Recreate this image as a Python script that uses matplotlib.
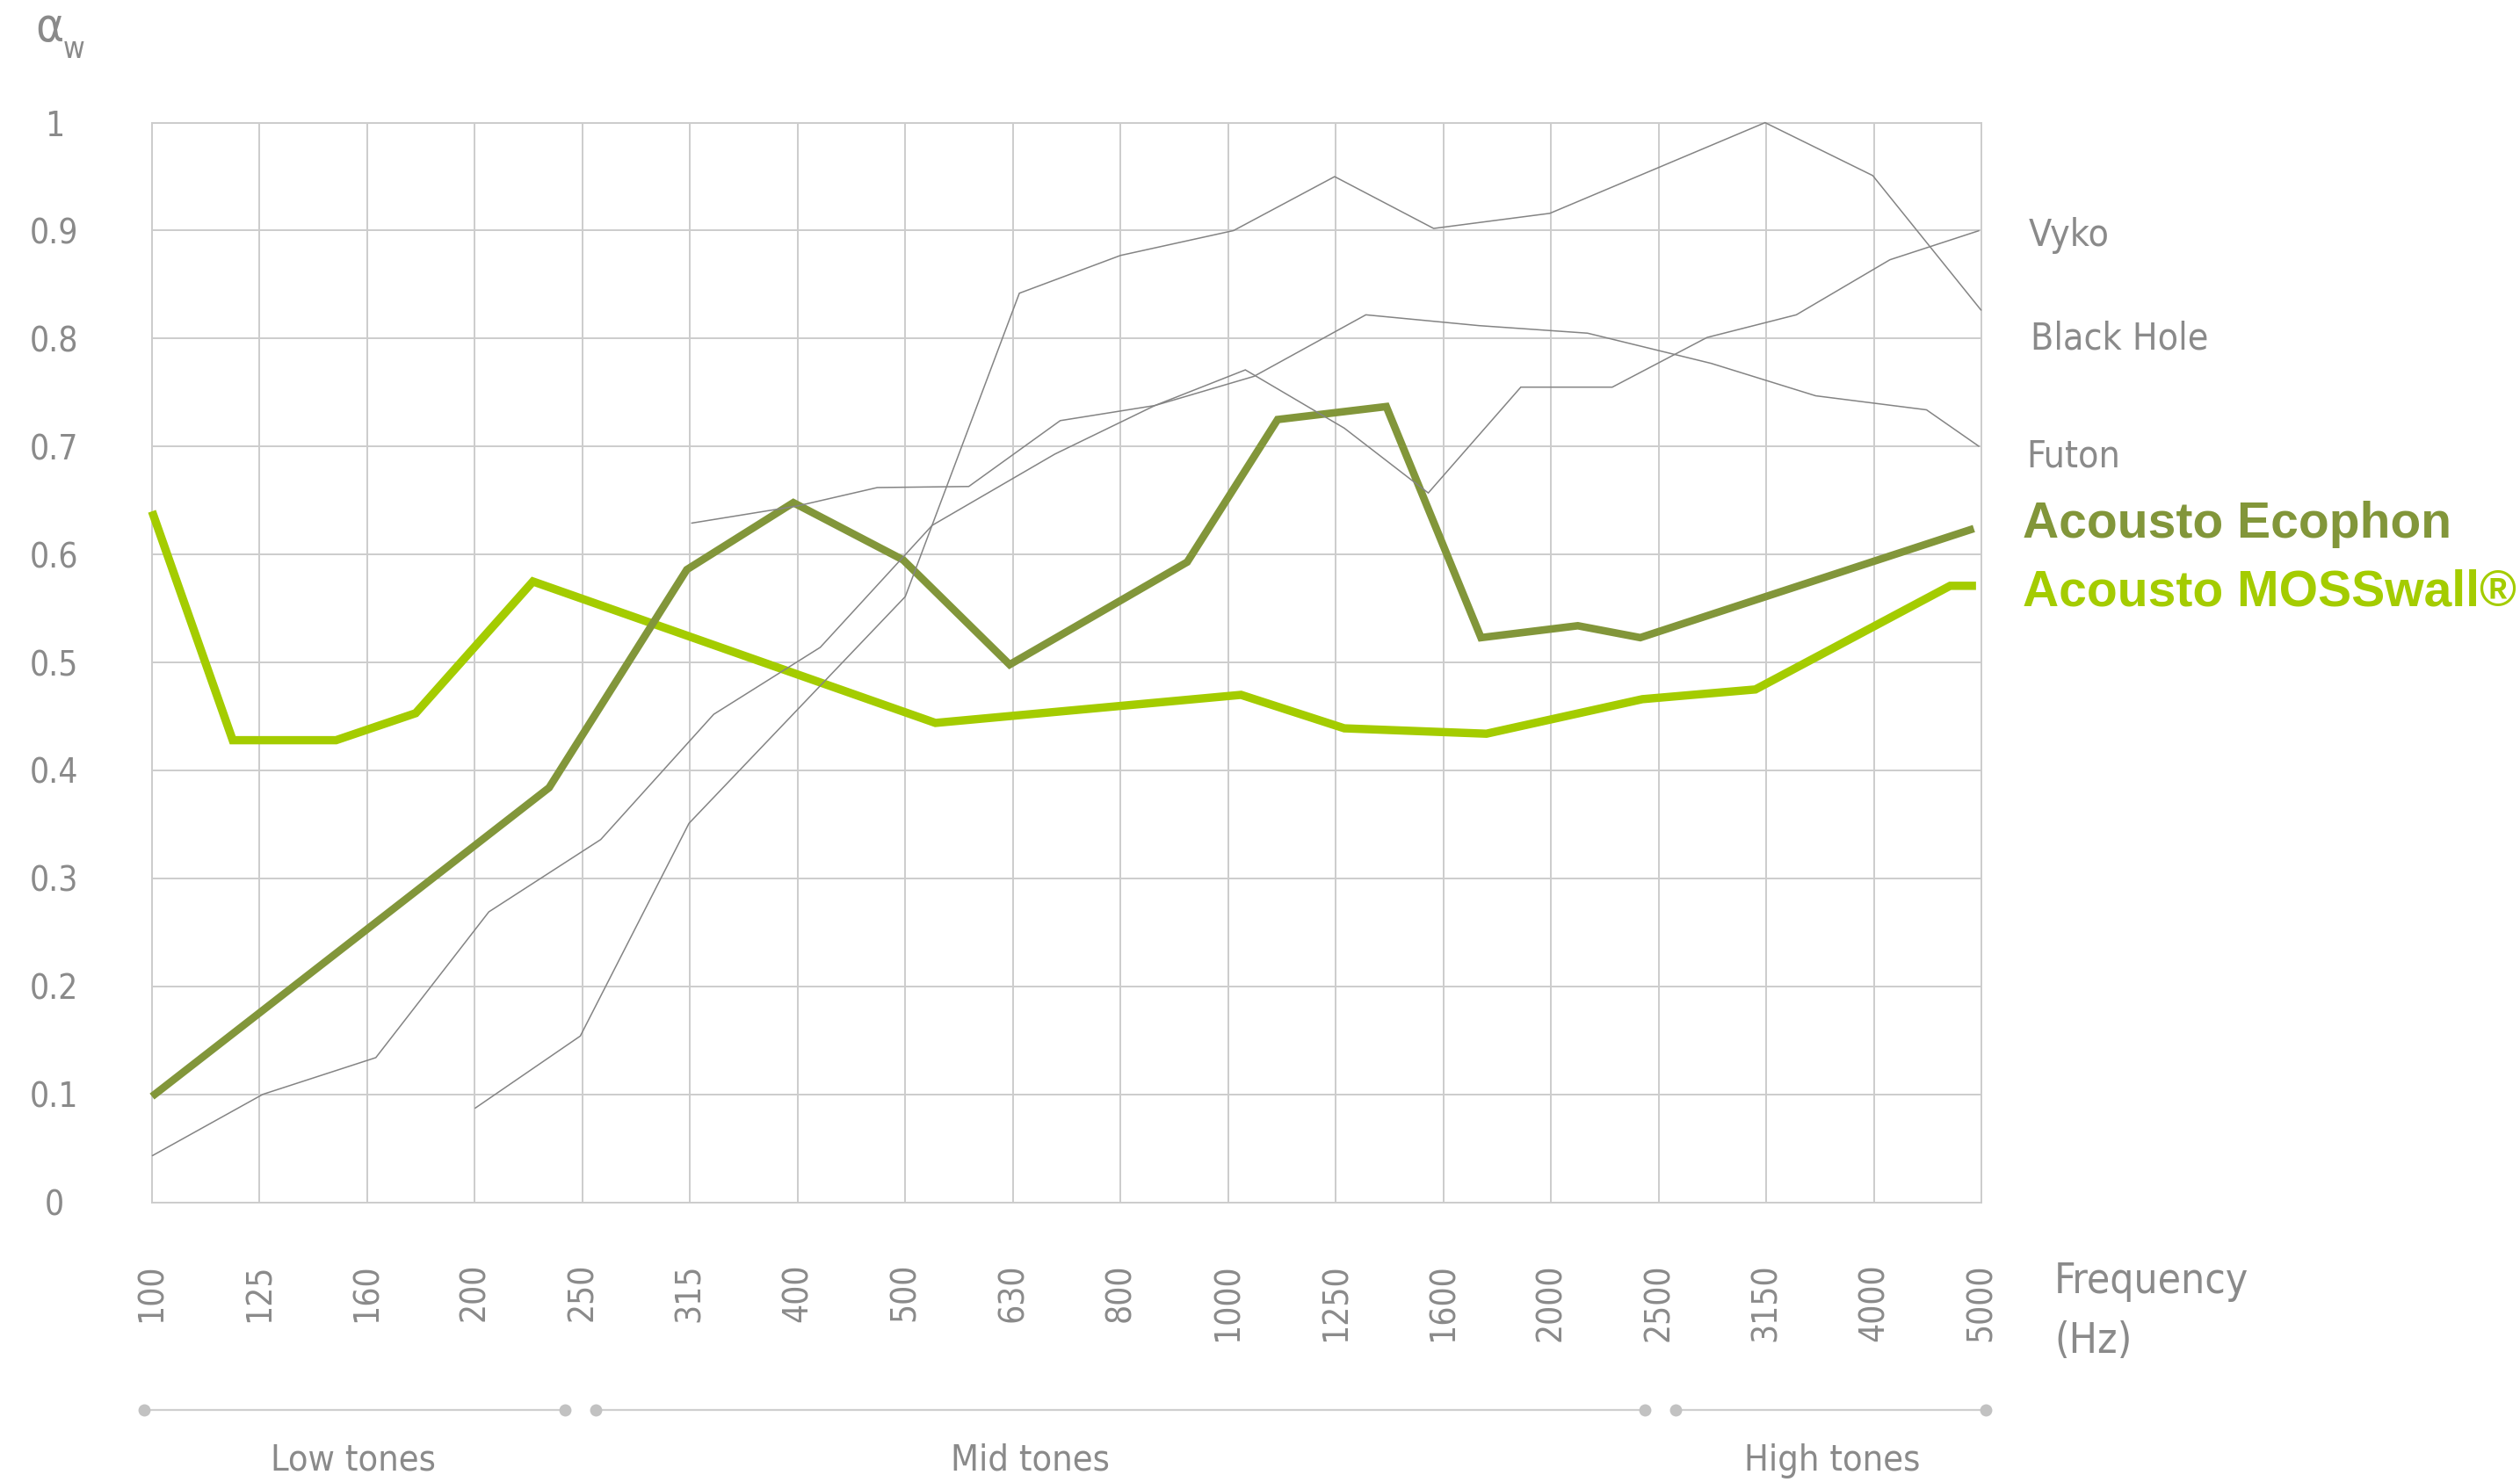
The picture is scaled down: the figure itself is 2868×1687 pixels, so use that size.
import matplotlib
matplotlib.use('Agg')
import matplotlib.pyplot as plt
from matplotlib import font_manager
from matplotlib.transforms import blended_transform_factory

# ── Data (x = position in 1/3-octave band steps, 0 = 100 Hz) ────────────────
freq_labels = ['100', '125', '160', '200', '250', '315', '400', '500', '630',
               '800', '1000', '1250', '1600', '2000', '2500', '3150', '4000', '5000']

vyko_x = [0, 1.03, 2.08, 3.13, 4.17, 5.22, 6.21, 7.25, 8.39, 9.32, 10.16,
          11.08, 11.86, 12.72, 13.57, 14.45, 15.28, 16.15, 16.98]
vyko_y = [0.043, 0.100, 0.134, 0.269, 0.336, 0.452, 0.514, 0.627, 0.693, 0.738, 0.771,
          0.717, 0.657, 0.755, 0.755, 0.801, 0.822, 0.873, 0.900]

blackhole_x = [3.0, 3.98, 4.99, 7.0, 8.06, 9.0, 10.05, 10.99, 11.91, 12.99, 14.99, 15.99, 17.0]
blackhole_y = [0.087, 0.154, 0.351, 0.561, 0.842, 0.877, 0.900, 0.950, 0.902, 0.916, 1.0, 0.951, 0.826]

futon_x = [5.01, 6.0, 6.74, 7.59, 8.44, 9.32, 10.24, 11.28, 12.33, 13.34, 14.49, 15.46, 16.49, 16.98]
futon_y = [0.629, 0.645, 0.662, 0.663, 0.724, 0.738, 0.765, 0.822, 0.812, 0.805, 0.777, 0.747, 0.734, 0.700]

ecophon_x = [0, 3.69, 4.97, 5.96, 6.98, 7.97, 9.62, 10.46, 11.47, 12.35, 13.25, 13.83, 16.93]
ecophon_y = [0.098, 0.384, 0.586, 0.648, 0.595, 0.498, 0.593, 0.725, 0.737, 0.523, 0.534, 0.523, 0.624]

moss_x = [0, 0.75, 1.71, 2.45, 3.54, 7.28, 10.12, 11.08, 12.40, 13.85, 14.90, 16.71, 16.95]
moss_y = [0.640, 0.428, 0.428, 0.453, 0.575, 0.444, 0.470, 0.439, 0.434, 0.466, 0.475, 0.571, 0.571]

y_ticks = [0, 0.1, 0.2, 0.3, 0.4, 0.5, 0.6, 0.7, 0.8, 0.9, 1.0]
y_labels = ['0', '0.1', '0.2', '0.3', '0.4', '0.5', '0.6', '0.7', '0.8', '0.9', '1']

bands = ['Low tones', 'Mid tones', 'High tones']
band_start = [-0.07, 4.12, 14.16]
band_end = [3.84, 13.87, 17.04]
band_label_x = [1.87, 8.16, 15.61]

# ── Fonts: prefer a narrow face, else condensed DejaVu ────────────────────────
names = {f.name for f in font_manager.fontManager.ttflist}
if 'Liberation Sans Narrow' in names:
    nf = dict(family='Liberation Sans Narrow')
    scale = 1.08
else:
    nf = dict(family='DejaVu Sans', stretch='condensed')
    scale = 0.93
wide = 'Liberation Sans' if 'Liberation Sans' in names else 'DejaVu Sans'

text_grey = '#8a8a8a'
grid_grey = '#cccccc'
line_grey = '#848484'
olive = '#82963a'
moss = '#a4cc00'

W, H = 2868, 1687
fig = plt.figure(figsize=(W / 100, H / 100), dpi=100)
ax = fig.add_axes([173 / W, 1 - 1368.6 / H, (2255 - 173) / W, (1368.6 - 139.6) / H])

ax.set_xlim(0, 17)
ax.set_ylim(0, 1)
ax.set_xticks(range(len(freq_labels)))
ax.set_xticklabels(freq_labels, rotation=90, fontsize=30 * scale, color=text_grey, **nf)
ax.set_yticks(y_ticks)
ax.set_yticklabels(y_labels, fontsize=30 * scale, color=text_grey, ha='center', **nf)
ax.tick_params(axis='x', length=0, pad=50)
ax.tick_params(axis='y', length=0, pad=80)
ax.grid(True, color=grid_grey, lw=1.4)
ax.set_axisbelow(True)
for s in ax.spines.values():
    s.set_color(grid_grey)
    s.set_linewidth(1.4)

# ── Lines ─────────────────────────────────────────────────────────────────────
kw = dict(solid_joinstyle='miter', solid_capstyle='butt', clip_on=False)
ax.plot(moss_x, moss_y, color=moss, lw=6.8, zorder=3, **kw)
ax.plot(ecophon_x, ecophon_y, color=olive, lw=6.2, zorder=4, **kw)
for xs, ys in [(vyko_x, vyko_y), (blackhole_x, blackhole_y), (futon_x, futon_y)]:
    ax.plot(xs, ys, color=line_grey, lw=1.1, zorder=5, **kw)

# ── Labels ────────────────────────────────────────────────────────────────────
def fy(py):
    return 1 - py / H

fig.text(40 / W, fy(47), 'α', fontsize=42 * scale, color=text_grey, va='baseline', **nf)
fig.text(72 / W, fy(66), 'w', fontsize=26 * scale, color=text_grey, va='baseline', **nf)

fig.text(2309 / W, fy(280), 'Vyko', fontsize=33 * scale, color=text_grey, va='baseline', **nf)
fig.text(2311 / W, fy(398), 'Black Hole', fontsize=33 * scale, color=text_grey, va='baseline', **nf)
fig.text(2306 / W, fy(532), 'Futon', fontsize=33 * scale, color=text_grey, va='baseline', **nf)
fig.text(2302 / W, fy(612), 'Acousto Ecophon', fontsize=41, family=wide, weight='bold',
         color=olive, va='baseline')
fig.text(2302 / W, fy(689), 'Acousto MOSSwall®', fontsize=41, family=wide, weight='bold',
         color=moss, va='baseline')

fig.text(2338 / W, fy(1472), 'Frequency', fontsize=37 * scale, color=text_grey,
         va='baseline', **nf)
fig.text(2338 / W, fy(1540), '(Hz)', fontsize=37 * scale, color=text_grey,
         va='baseline', **nf)

trans = blended_transform_factory(ax.transData, fig.transFigure)
for name, x0, x1, xl in zip(bands, band_start, band_end, band_label_x):
    ax.plot([x0, x1], [fy(1605), fy(1605)], color='#cfcfcf', lw=1.6, transform=trans, clip_on=False)
    ax.plot([x0, x1], [fy(1605), fy(1605)], 'o', color='#c2c2c2', ms=10, mec='none',
            transform=trans, clip_on=False)
    ax.text(xl, fy(1674), name, fontsize=32 * scale, color=text_grey,
            ha='center', va='baseline', transform=trans, **nf)

fig.savefig('out.png', dpi=100)
